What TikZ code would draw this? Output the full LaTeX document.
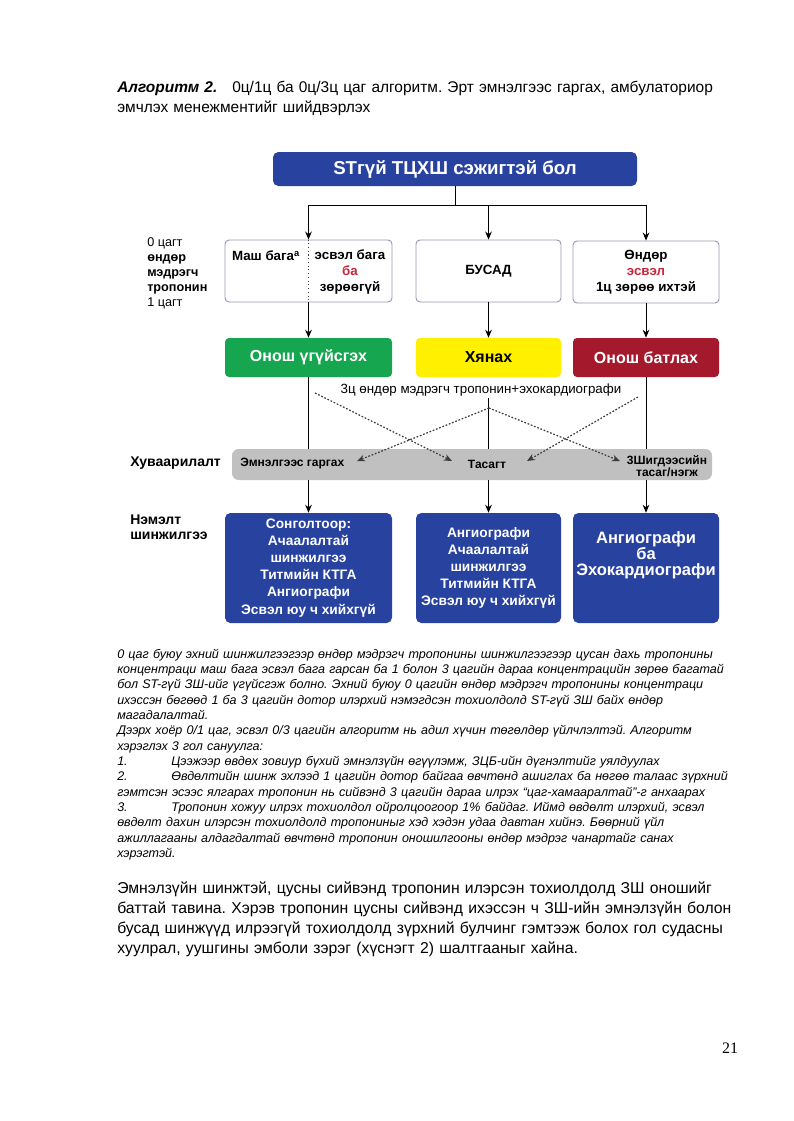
\documentclass[tikz,border=0pt]{standalone}
\usepackage{fontspec}
\setmainfont{Liberation Sans}
\newfontfamily\pagenumfont{Liberation Serif}
\usetikzlibrary{arrows.meta,positioning,calc}
\definecolor{algblue}{RGB}{40,66,160}
\definecolor{rulegreen}{RGB}{22,166,80}
\definecolor{watchyellow}{RGB}{255,240,0}
\definecolor{confred}{RGB}{165,25,45}
\definecolor{barg}{RGB}{192,192,192}
\definecolor{boxline}{RGB}{150,152,178}
\definecolor{hilite}{RGB}{200,40,60}
\definecolor{dashg}{RGB}{60,60,60}
\frenchspacing
\newcommand{\fullline}[1]{\noindent\hbox to\linewidth{#1}\par}
\newcommand{\lastline}[1]{\noindent\hbox{#1}\par}
\tikzset{
  hdr/.style={fill=algblue,rounded corners=4pt,text=white,inner sep=0pt,
              font=\bfseries\fontsize{14}{16}\selectfont,
              minimum width=273pt,minimum height=25.5pt},
  lvl/.style={draw=boxline,line width=0.7pt,fill=white,rounded corners=3pt,
              minimum height=46.5pt,inner sep=0pt,align=center,
              font=\bfseries\fontsize{10}{12}\selectfont},
  lvltxt/.style={inner sep=0pt,align=center,font=\bfseries\fontsize{10}{12}\selectfont},
  dec/.style={rounded corners=3pt,minimum height=29.25pt,inner sep=0pt,
              font=\bfseries\fontsize{12}{14}\selectfont},
  bar/.style={fill=barg,rounded corners=5pt,minimum width=360pt,
              minimum height=23.25pt,inner sep=0pt},
  bartxt/.style={inner sep=0pt,align=center,font=\bfseries\fontsize{9}{9.5}\selectfont},
  test/.style={fill=algblue,rounded corners=4pt,text=white,minimum height=82.5pt,
               inner sep=0pt,align=center,font=\bfseries\fontsize{10.3}{12.8}\selectfont},
  side/.style={inner sep=0pt,anchor=west,align=left,font=\fontsize{9.5}{11.25}\selectfont},
  sideb/.style={side,font=\bfseries\fontsize{10.5}{11.25}\selectfont},
  flow/.style={->,line width=0.75pt,draw=black},
  plain/.style={line width=0.75pt,draw=black},
  flowd/.style={->,line width=0.9pt,draw=dashg,dash pattern=on 1.3pt off 1.3pt},
}

\begin{document}
\begin{tikzpicture}[x=0.75pt,y=-0.75pt,>={Stealth[length=6pt,width=5pt]}]
  \useasboundingbox (0,0) rectangle (793,1121);

  % caption above the chart
  \node[anchor=base west,inner sep=0pt,text width=463.5pt,align=left,
        font=\fontsize{11.6}{15}\selectfont] (caption) at (117,92)
    {\makebox[86.25pt][l]{\textbf{\textit{Алгоритм 2.}}}0ц/1ц ба 0ц/3ц цаг алгоритм. Эрт эмнэлгээс гаргах, амбулаториор\\
     эмчлэх менежментийг шийдвэрлэх};

  % chart
  \node[hdr] (susp) at (455,169) {STгүй ТЦХШ сэжигтэй бол};
  \coordinate (split) at (455,205);

  \node[lvl,minimum width=125.25pt] (low) at (308.5,271) {};
  \node[lvltxt] (lowa) at (266,256) {Маш бага\textsuperscript{a}};
  \node[lvltxt] (lowb) at (350,272) {эсвэл бага\\\textcolor{hilite}{ба}\\зөрөөгүй};
  \node[lvl,minimum width=108.75pt] (other) at (488.5,271) {БУСАД};
  \node[lvl,minimum width=109.5pt] (high) at (646,272) {Өндөр\\\textcolor{hilite}{эсвэл}\\1ц зөрөө ихтэй};
  \draw[dotted,line width=0.8pt,draw=dashg] (low.north) -- (low.south);

  \node[side] (hstime) at (147,273) {0 цагт\\\textbf{өндөр}\\\textbf{мэдрэгч}\\\textbf{тропонин}\\1 цагт};

  \node[dec,fill=rulegreen,text=white,minimum width=125.25pt] (ruleout) at (308.5,357.5) {Онош үгүйсгэх};
  \node[dec,fill=watchyellow,minimum width=108.75pt] (observe) at (488.5,357.5) {Хянах};
  \node[dec,fill=confred,text=white,minimum width=109.5pt] (rulein) at (646,357.5) {Онош батлах};

  \node[inner sep=1pt,font=\fontsize{10}{12}\selectfont] (retest) at (481,390)
    {3ц өндөр мэдрэгч тропонин+эхокардиографи};

  \node[bar] (dispo) at (472,464.5) {};
  \node[bartxt,anchor=west] (home) at (240,464) {Эмнэлгээс гаргах};
  \node[bartxt] (ward) at (487,464) {Тасагт};
  \node[bartxt] (ccu) at (667,466) {3Шигдээсийн\\тасаг/нэгж};
  \node[sideb] (dispolbl) at (130,463) {Хуваарилалт};

  \node[test,minimum width=125.25pt] (tests1) at (308.5,568)
    {Сонголтоор:\\Ачаалалтай\\шинжилгээ\\Титмийн КТГА\\Ангиографи\\Эсвэл юу ч хийхгүй};
  \node[test,minimum width=108.75pt] (tests2) at (488.5,568)
    {Ангиографи\\Ачаалалтай\\шинжилгээ\\Титмийн КТГА\\Эсвэл юу ч хийхгүй};
  \node[test,minimum width=109.5pt] (tests3) at (646,568) {};
  \node[inner sep=0pt,align=center,text=white,font=\bfseries\fontsize{12.4}{11.8}\selectfont]
    (tests3txt) at (646,555) {Ангиографи\\ба\\Эхокардиографи};
  \node[sideb] (extralbl) at (130,527.5) {Нэмэлт\\шинжилгээ};

  % connectors
  \draw[plain] (susp) -- (split);
  \draw[flow] (split) -| (low);
  \draw[flow] (split) -| (other);
  \draw[flow] (split) -| (high);
  \draw[flow] (low) -- (ruleout);
  \draw[flow] (other) -- (observe);
  \draw[flow] (high) -- (rulein);
  \draw[plain] (ruleout) -- (ruleout |- dispo.north);
  \draw[plain] (observe |- retest.south) -- (observe |- dispo.north);
  \draw[plain] (rulein) -- (rulein |- dispo.north);
  \draw[flow] (tests1 |- dispo.south) -- (tests1);
  \draw[flow] (tests2 |- dispo.south) -- (tests2);
  \draw[flow] (tests3 |- dispo.south) -- (tests3);

  % dashed cross-over arrows
  \coordinate (fromL) at (315,393);
  \coordinate (fromR) at (638,397);
  \coordinate (fromM) at (489,408);
  \coordinate (toWardL) at (452,461);
  \coordinate (toHome) at (357,461);
  \coordinate (toCcu) at (620,461);
  \coordinate (toWardR) at (527,461);
  \draw[flowd] (fromL) -- (toWardL);
  \draw[flowd] (fromM) -- (toHome);
  \draw[flowd] (fromM) -- (toCcu);
  \draw[flowd] (fromR) -- (toWardR);

  % notes under the chart
  \node[anchor=base west,inner sep=0pt,text width=463.5pt,
        font=\itshape\fontsize{9.4}{11.5}\selectfont] (notes) at (117,658) {%
    \fullline{0 цаг буюу эхний шинжилгээгээр өндөр мэдрэгч тропонины шинжилгээгээр цусан дахь тропонины}
    \fullline{концентраци маш бага эсвэл бага гарсан ба 1 болон 3 цагийн дараа концентрацийн зөрөө багатай}
    \fullline{бол ST-гүй ЗШ-ийг үгүйсгэж болно. Эхний буюу 0 цагийн өндөр мэдрэгч тропонины концентраци}
    \fullline{ихэссэн бөгөөд 1 ба 3 цагийн дотор илэрхий нэмэгдсэн тохиолдолд ST-гүй ЗШ байх өндөр}
    \lastline{магадалалтай.}
    \fullline{Дээрх хоёр 0/1 цаг, эсвэл 0/3 цагийн алгоритм нь адил хүчин төгөлдөр үйлчлэлтэй. Алгоритм}
    \lastline{хэрэглэх 3 гол сануулга:}
    \lastline{\makebox[40.5pt][l]{1.}Цээжээр өвдөх зовиур бүхий эмнэлзүйн өгүүлэмж, ЗЦБ-ийн дүгнэлтийг уялдуулах}
    \fullline{\makebox[40.5pt][l]{2.}Өвдөлтийн шинж эхлээд 1 цагийн дотор байгаа өвчтөнд ашиглах ба нөгөө талаас зүрхний}
    \fullline{гэмтсэн эсээс ялгарах тропонин нь сийвэнд 3 цагийн дараа илрэх “цаг-хамааралтай”-г анхаарах}
    \fullline{\makebox[40.5pt][l]{3.}Тропонин хожуу илрэх тохиолдол ойролцоогоор 1\% байдаг. Иймд өвдөлт илэрхий, эсвэл}
    \fullline{өвдөлт дахин илэрсэн тохиолдолд тропониныг хэд хэдэн удаа давтан хийнэ. Бөөрний үйл}
    \fullline{ажиллагааны алдагдалтай өвчтөнд тропонин оношилгооны өндөр мэдрэг чанартайг санах}
    \lastline{хэрэгтэй.}};

  % body text
  \node[anchor=base west,inner sep=0pt,text width=463.5pt,
        font=\fontsize{11.8}{15}\selectfont] (body) at (117,893) {%
    \fullline{Эмнэлзүйн шинжтэй, цусны сийвэнд тропонин илэрсэн тохиолдолд ЗШ оношийг}
    \fullline{баттай тавина. Хэрэв тропонин цусны сийвэнд ихэссэн ч ЗШ-ийн эмнэлзүйн болон}
    \fullline{бусад шинжүүд илрээгүй тохиолдолд зүрхний булчинг гэмтээж болох гол судасны}
    \lastline{хуулрал, уушгины эмболи зэрэг (хүснэгт 2) шалтгааныг хайна.}};

  \node[font=\pagenumfont\fontsize{12}{14}\selectfont] (pagenum) at (730,1048) {21};
\end{tikzpicture}
\end{document}
